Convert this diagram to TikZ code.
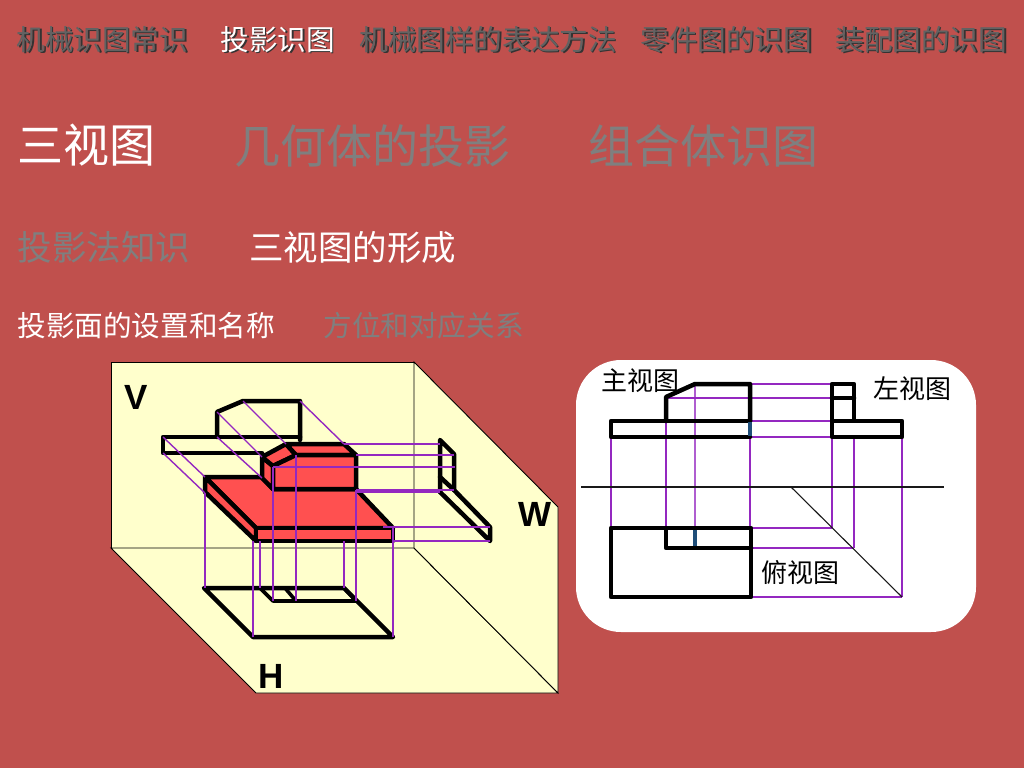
\documentclass[tikz,border=0pt]{standalone}
\usepackage{fontspec}
\setmainfont{Noto Sans CJK SC}
\newfontfamily\lettersans{Liberation Sans}
\usepackage{tikz}
\definecolor{slidered}{HTML}{C0504D}
\definecolor{wallyellow}{HTML}{FFFFCC}
\definecolor{partred}{HTML}{FF5050}
\definecolor{linkpurple}{HTML}{9428C0}
\definecolor{hiddenblue}{HTML}{1F4E79}
\definecolor{dimgray}{HTML}{7F7F7F}
\definecolor{menugray}{HTML}{626262}
\def\fs#1{\fontsize{#1}{#1}\selectfont}
\tikzset{
	txt/.style={anchor=west, inner sep=0, outer sep=0},
	wall/.style={draw=black, line width=0.9, fill=wallyellow},
	edge/.style={line width=4.5, line join=round, line cap=round},
	link/.style={line width=1.4, color=linkpurple},
	thin line/.style={line width=1.1, color=black!90},
	plane/.style={anchor=center, inner sep=0, font=\lettersans\bfseries\fs{35}},
	viewname/.style={anchor=center, inner sep=0, font=\fs{26}, color=black}
}
\begin{document}
\begin{tikzpicture}[x=1pt, y=-1pt]
			%%%%% START %%%%%
			
			\useasboundingbox (0, 0) rectangle (1024, 768);
			\fill[slidered] (0, 0) rectangle (1024, 768);
			
			% top menu
			\node[txt, color=black!80, font=\fs{28.6}] (menuAs) at (18, 41) {机械识图常识};
			\node[txt, color=menugray, font=\fs{28.6}] (menuA) at (16.5, 39.5) {机械识图常识};
			\node[txt, color=black!80, font=\fs{28.6}] (menuBs) at (222, 41) {投影识图};
			\node[txt, color=white, font=\fs{28.6}] (menuB) at (220.5, 39.5) {投影识图};
			\node[txt, color=black!80, font=\fs{28.6}] (menuCs) at (361, 41) {机械图样的表达方法};
			\node[txt, color=menugray, font=\fs{28.6}] (menuC) at (359.5, 39.5) {机械图样的表达方法};
			\node[txt, color=black!80, font=\fs{28.6}] (menuDs) at (642, 41) {零件图的识图};
			\node[txt, color=menugray, font=\fs{28.6}] (menuD) at (640.5, 39.5) {零件图的识图};
			\node[txt, color=black!80, font=\fs{28.6}] (menuEs) at (837, 41) {装配图的识图};
			\node[txt, color=menugray, font=\fs{28.6}] (menuE) at (835.5, 39.5) {装配图的识图};
			
			% second to fourth row
			\node[txt, color=white, font=\fs{46}] (rowA) at (17, 145.5) {三视图};
			\node[txt, color=dimgray, font=\fs{46}] (rowB) at (234.5, 145.5) {几何体的投影};
			\node[txt, color=dimgray, font=\fs{46}] (rowC) at (588.5, 145.5) {组合体识图};
			\node[txt, color=dimgray, font=\fs{34.5}] (subA) at (17.5, 247.5) {投影法知识};
			\node[txt, color=white, font=\fs{34.5}] (subB) at (249, 247.5) {三视图的形成};
			\node[txt, color=white, font=\fs{28.6}] (itemA) at (17.5, 325.5) {投影面的设置和名称};
			\node[txt, color=dimgray, font=\fs{28.6}] (itemB) at (323.5, 325.5) {方位和对应关系};
			
			% three planes
			\draw[wall] (111, 362) rectangle (414, 548);
			\draw[wall] (111, 548) -- (256, 693) -- (558, 693) -- (414, 548) -- cycle;
			\draw[wall] (414, 362) -- (558, 507) -- (558, 693) -- (414, 548) -- cycle;
			\node[plane] (planeV) at (136.5, 397.5) {V};
			\node[plane] (planeW) at (535, 514) {W};
			\node[plane] (planeH) at (271.5, 676) {H};
			
			% projection on V
			\draw[edge] (217, 437) -- (217, 412) -- (243, 401) -- (300, 401) -- (300, 440);
			\draw[edge] (262, 453) -- (163, 453) -- (163, 437) -- (300, 437);
			
			% projection on W
			\draw[edge] (440, 492) -- (440, 440) -- (454, 454) -- (454, 490);
			\draw[edge] (440, 477) -- (454, 490) -- (490, 527) -- (490, 541) -- (440, 492);
			
			% projection on H
			\draw[edge] (204, 588) -- (344, 588) -- (393, 637) -- (253, 637) -- cycle;
			\draw[edge, line width=3.6] (260, 588) -- (273, 601) -- (356, 601) -- (344, 588);
			\draw[edge, line width=3.6] (285, 588) -- (296, 601);
			
			% solid part
			\draw[edge, fill=partred] (205, 477) -- (262, 477) -- (273, 489) -- (356, 489) -- (393, 528) -- (256, 528) -- cycle;
			\draw[edge, fill=partred] (205, 477) -- (256, 528) -- (256, 541) -- (205, 492) -- cycle;
			\draw[edge, fill=partred] (256, 528) rectangle (393, 541);
			\draw[edge, fill=partred] (262, 457) -- (273, 466) -- (273, 489) -- (262, 478) -- cycle;
			\draw[edge, fill=partred] (262, 457) -- (286, 444) -- (296, 455) -- (273, 466) -- cycle;
			\draw[edge, fill=partred] (286, 444) -- (344, 444) -- (356, 455) -- (296, 455) -- cycle;
			\draw[edge, fill=partred] (273, 466) -- (296, 455) -- (356, 455) -- (356, 489) -- (273, 489) -- cycle;
			
			% links to V
			\draw[link] (163, 437) -- (205, 477);
			\draw[link] (163, 453) -- (205, 493);
			\draw[link] (217, 412) -- (262, 457);
			\draw[link] (217, 437) -- (262, 478);
			\draw[link] (243, 401) -- (286, 444);
			\draw[link] (300, 401) -- (344, 444);
			
			% links to W
			\draw[link] (344, 444) -- (440, 444);
			\draw[link] (356, 455) -- (454, 455);
			\draw[link] (273, 467) -- (455, 467);
			\draw[link] (356, 490) -- (454, 490);
			\draw[link] (356, 492) -- (440, 492);
			\draw[link] (383, 527) -- (490, 527);
			\draw[link] (393, 541) -- (490, 541);
			
			% links to H
			\draw[link] (205, 493) -- (205, 588);
			\draw[link] (273, 467) -- (273, 601);
			\draw[link] (296, 455) -- (296, 601);
			\draw[link] (356, 490) -- (356, 601);
			\draw[link] (253, 541) -- (253, 637);
			\draw[link] (393, 528) -- (393, 637);
			\draw[link] (260, 541) -- (260, 588);
			\draw[link] (344, 541) -- (344, 588);
			
			% right panel
			\fill[white, rounded corners=45] (576, 360) rectangle (976, 632);
			
			\draw[link] (611, 437) -- (611, 528);
			\draw[link] (666, 397) -- (666, 528);
			\draw[link, color=linkpurple!75] (695, 384) -- (695, 528);
			\draw[link] (750, 437) -- (750, 528);
			\draw[link] (832, 437) -- (832, 528);
			\draw[link] (854, 437) -- (854, 548);
			\draw[link] (902, 437) -- (902, 597);
			\draw[link] (750, 384) -- (832, 384);
			\draw[link] (666, 398) -- (832, 398);
			\draw[link] (750, 421) -- (832, 421);
			\draw[link] (750, 437) -- (832, 437);
			\draw[link] (750, 528) -- (832, 528);
			\draw[link] (748, 548) -- (854, 548);
			\draw[link] (750, 597) -- (902, 597);
			
			\draw[thin line] (581, 487) -- (944, 487);
			\draw[thin line] (791, 487) -- (902, 597);
			
			% front view
			\draw[edge] (750, 421) -- (611, 421) -- (611, 437) -- (750, 437);
			\draw[edge] (666, 421) -- (666, 397) -- (695, 384) -- (750, 384) -- (750, 421);
			\draw[edge, color=hiddenblue, line cap=butt] (750, 422) -- (750, 436);
			
			% left view
			\draw[edge] (832, 384) rectangle (854, 421);
			\draw[edge] (832, 421) rectangle (902, 437);
			\draw[edge] (832, 398) -- (854, 398);
			
			% top view
			\draw[edge] (611, 528) rectangle (751, 597);
			\draw[edge] (666, 528) -- (666, 548) -- (751, 548);
			\draw[edge, color=hiddenblue, line cap=butt] (695, 530) -- (695, 546);
			
			\node[viewname] (nameFront) at (640.5, 381) {主视图};
			\node[viewname] (nameLeft) at (912, 389) {左视图};
			\node[viewname] (nameTop) at (800, 573) {俯视图};
			
			%%%%% END %%%%%
		\end{tikzpicture}
\end{document}
